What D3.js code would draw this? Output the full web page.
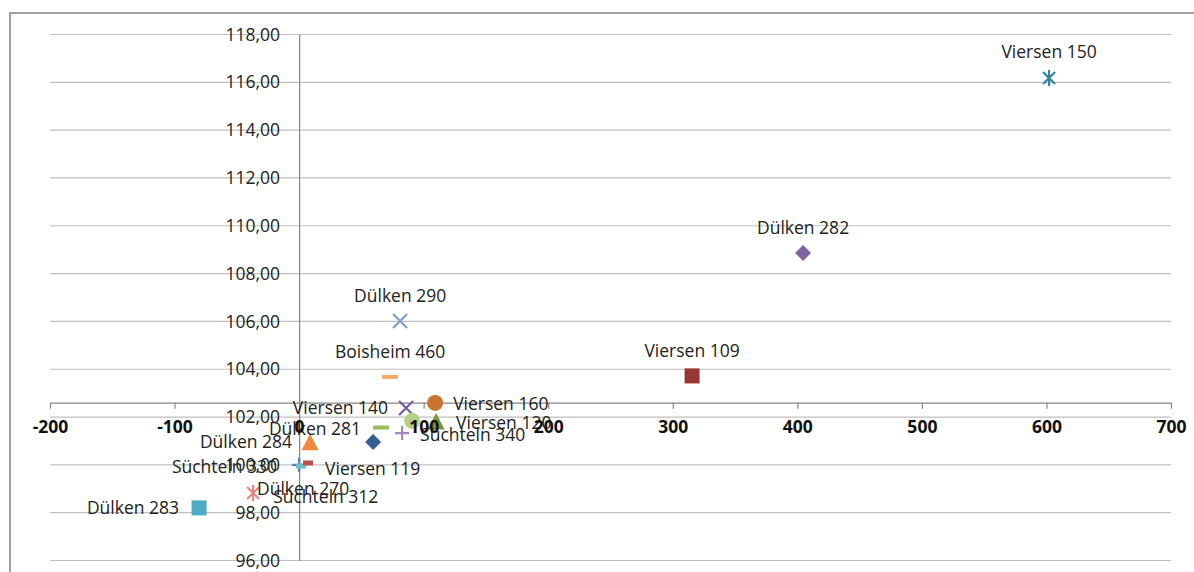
<!DOCTYPE html>
<html><head><meta charset="utf-8">
<script src="https://cdn.jsdelivr.net/npm/d3@7/dist/d3.min.js"></script>
<style>
body{margin:0;background:#fff;}
svg text{font-family:"Open Sans",sans-serif;}
</style>
</head><body>
<svg id="chart" width="1194" height="572"></svg>
<script>
// ---- data ----
const pointLabels = ["Viersen 150","Dülken 282","Dülken 290","Boisheim 460","Viersen 109","Viersen 160","Viersen 140","Viersen 120","","Dülken 281","Süchteln 340","","Dülken 284","Süchteln 330","Dülken 270","Viersen 119","Süchteln 312","Dülken 283"];
const xValues = [602.1, 404.6, 81.1, 73.1, 315.5, 109.2, 85.9, 110.0, 90.7, 65.8, 82.7, 59.4, 8.8, 0.0, 1.6, 7.2, -36.9, -80.3];
const yValues = [116.18, 108.86, 106.02, 103.68, 103.72, 102.59, 102.38, 101.79, 101.84, 101.56, 101.33, 100.96, 100.92, 100.0, 99.95, 100.08, 98.82, 98.2];
const xTickValues = [-200,-100,0,100,200,300,400,500,600,700];
const yTickValues = [96,98,100,102,104,106,108,110,112,114,116,118];
const xAxisCrossesAt = 102.6;

// ---- styles (kept apart from data) ----
const markerShapes = ["asterisk","diamond","x","dash","square","circle","x","triangle","circle","dash","plus","diamond","triangle","plus","smalldash","smalldash","asterisk","square"];
const markerColors = ["#31859C","#8064A2","#7F9DD0","#F9AB6B","#953735","#C8742F","#7A5C9C","#77933C","#B5CF86","#9BBB59","#A08AB8","#376092","#F08A3A","#4F81BD","#6FBCD3","#C0504D","#E08A88","#4BACC6"];
const labelAnchor = ["middle","middle","middle","middle","middle","start","end","start","start","end","start","start","end","end","middle","start","start","end"];
const labelDx = [0,0,0,0,0,18,-18,20,0,-20,18,0,-18,-22,2,17,20,-20];
const labelDy = [-26,-25,-25,-25,-25,1,0,1,0,1.5,2,0,-1,2,23,6,4,0];

const svg = d3.select("#chart");
const x = d3.scaleLinear().domain([-200,700]).range([50,1171]);
const y = d3.scaleLinear().domain([96,118]).range([560.5,34.5]);

// outer chart border
svg.append("rect").attr("x",10).attr("y",13).attr("width",1200).attr("height",600)
  .attr("fill","none").attr("stroke","#8a8a8a").attr("stroke-width",1.6);

// gridlines
svg.append("g").selectAll("line").data(yTickValues).join("line")
  .attr("x1",x(-200)).attr("x2",x(700))
  .attr("y1",d=>y(d)).attr("y2",d=>y(d))
  .attr("stroke","#BFBFBF").attr("stroke-width",1.2);

// axis lines (drawn under markers)
const xAxisG = svg.append("g").attr("transform",`translate(0,${y(xAxisCrossesAt)})`)
  .call(d3.axisBottom(x).tickValues(xTickValues).tickSize(6).tickSizeOuter(0).tickPadding(12));
xAxisG.select(".domain").attr("stroke","#868686").attr("stroke-width",1.2);
xAxisG.selectAll(".tick line").attr("stroke","#868686").attr("stroke-width",1.2);
xAxisG.selectAll("text").remove();

const yAxisG = svg.append("g").attr("transform",`translate(${x(0)},0)`)
  .call(d3.axisLeft(y).tickValues(yTickValues).tickSize(0).tickSizeOuter(0).tickPadding(19));
yAxisG.select(".domain").attr("stroke","#868686").attr("stroke-width",1.2);
yAxisG.selectAll("text").remove();

// markers
function drawMarker(g, shape, color){
  switch(shape){
    case "diamond": g.append("path").attr("d","M0,-8L8,0L0,8L-8,0Z").attr("fill",color); break;
    case "square": g.append("rect").attr("x",-7.5).attr("y",-7.5).attr("width",15).attr("height",15).attr("fill",color); break;
    case "triangle": g.append("path").attr("d","M0,-9L8.5,7.5L-8.5,7.5Z").attr("fill",color); break;
    case "circle": g.append("circle").attr("r",8).attr("fill",color); break;
    case "x": g.append("path").attr("d","M-7,-7L7,7M-7,7L7,-7").attr("stroke",color).attr("stroke-width",2.2).attr("fill","none"); break;
    case "asterisk": g.append("path").attr("d","M-6,-6L6,6M-6,6L6,-6M0,-8L0,8").attr("stroke",color).attr("stroke-width",2.2).attr("fill","none"); break;
    case "plus": g.append("path").attr("d","M-7,0L7,0M0,-7L0,7").attr("stroke",color).attr("stroke-width",2.2).attr("fill","none"); break;
    case "dash": g.append("rect").attr("x",-8).attr("y",-2).attr("width",16).attr("height",4).attr("fill",color); break;
    case "smalldash": g.append("rect").attr("x",-5).attr("y",-2.5).attr("width",10).attr("height",5).attr("fill",color); break;
  }
}
const pts = d3.range(xValues.length);
svg.append("g").selectAll("g").data(pts).join("g")
  .attr("transform",i=>`translate(${x(xValues[i])},${y(yValues[i])})`)
  .each(function(i){ drawMarker(d3.select(this), markerShapes[i], markerColors[i]); });

// data labels
svg.append("g").selectAll("text").data(pts.filter(i=>pointLabels[i]!=="")).join("text")
  .attr("x",i=>x(xValues[i])+labelDx[i])
  .attr("y",i=>y(yValues[i])+labelDy[i])
  .attr("dy","0.36em")
  .attr("text-anchor",i=>labelAnchor[i])
  .attr("font-size",17.5).attr("fill","#222")
  .text(i=>pointLabels[i]);

// axis tick labels (on top, like the original)
svg.append("g").attr("transform",`translate(0,${y(xAxisCrossesAt)})`)
  .call(d3.axisBottom(x).tickValues(xTickValues).tickSize(6).tickPadding(12).tickFormat(d=>String(d)))
  .call(g=>{g.select(".domain").remove(); g.selectAll(".tick line").remove();})
  .selectAll("text").attr("font-size",17.5).attr("font-weight","bold").attr("fill","#111").attr("font-family","'Open Sans',sans-serif");

svg.append("g").attr("transform",`translate(${x(0)},0)`)
  .call(d3.axisLeft(y).tickValues(yTickValues).tickSize(0).tickPadding(19).tickFormat(d=>d3.format(".2f")(d).replace(".",",")))
  .call(g=>g.select(".domain").remove())
  .selectAll("text").attr("font-size",17.5).attr("fill","#222").attr("font-family","'Open Sans',sans-serif");
</script>
</body></html>
